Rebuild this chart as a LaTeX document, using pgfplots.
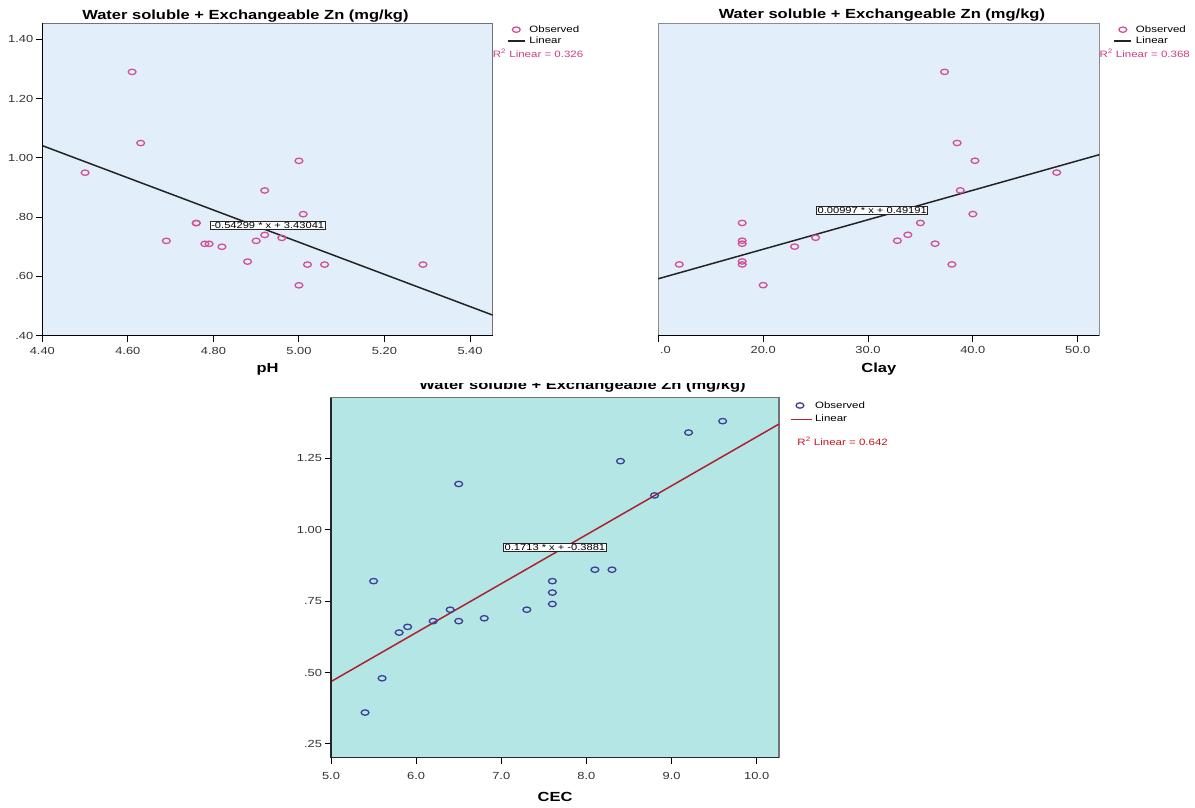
\documentclass[border=0pt]{standalone}
\usepackage{fontspec}
\setmainfont{Liberation Sans}
\newfontfamily\wsans{Liberation Sans}[FakeStretch=1.25]
\usepackage{pgfplots}
\pgfplotsset{compat=1.18}

\definecolor{paneblue}{RGB}{226,238,250}
\definecolor{panecyan}{RGB}{180,230,230}
\definecolor{obspink}{RGB}{208,82,150}
\definecolor{rsqpink}{RGB}{205,60,135}
\definecolor{obsblue}{RGB}{62,62,150}
\definecolor{fitred}{RGB}{170,35,45}
\definecolor{rsqred}{RGB}{195,20,30}
\definecolor{ticktext}{RGB}{50,50,50}
\definecolor{fitdark}{RGB}{35,35,35}

\newcommand\ttl{\wsans\fontsize{13.2}{15}\selectfont\bfseries}
\newcommand\tck{\wsans\fontsize{10.3}{12}\selectfont}
\newcommand\lgd{\wsans\fontsize{9.2}{11}\selectfont}
\newcommand\eqf{\wsans\fontsize{8.9}{10}\selectfont}

\pgfplotsset{
  spss/.style={
    scale only axis, anchor=south west, clip=false,
    axis line style={line width=1.1pt, draw=black!55},
    tick pos=left, tick align=outside,
    major tick length=6.5pt,
    tick style={black, line width=1pt},
    ticklabel style={font=\tck, text=ticktext},
    xticklabel style={yshift=-1.2pt},
    yticklabel style={xshift=1pt},
    xlabel style={font=\ttl, anchor=base, at={(axis description cs:0.5,0)}},
    legend cell align=left,
  },
  obs/.style={only marks, mark=o, mark size=2.7pt,
    mark options={xscale=1.45, line width=1.3pt}},
  lgmark/.style={legend image code/.code={\draw[##1] plot coordinates {(#1,0pt)};}},
  lgline/.style={legend image code/.code={\draw[##1] (0pt,0pt) -- (#1,0pt);}},
}

% Zn data: pH, clay and CEC against water soluble + exchangeable Zn
\pgfplotstableread{
ph zn
4.50 0.95
4.61 1.29
4.63 1.05
4.69 0.72
4.76 0.78
4.76 0.78
4.78 0.71
4.79 0.71
4.82 0.70
4.88 0.65
4.90 0.72
4.92 0.74
4.92 0.89
4.96 0.73
5.00 0.99
5.00 0.57
5.01 0.81
5.02 0.64
5.06 0.64
5.29 0.64
}\phdata
\pgfplotstableread{
clay zn
12.0 0.64
18.0 0.78
18.0 0.72
18.0 0.71
18.0 0.65
18.0 0.64
20.0 0.57
23.0 0.70
25.0 0.73
32.8 0.72
33.8 0.74
35.0 0.78
36.4 0.71
37.3 1.29
38.0 0.64
38.5 1.05
38.8 0.89
40.0 0.81
40.2 0.99
48.0 0.95
}\claydata
\pgfplotstableread{
cec zn
5.4 0.36
5.5 0.82
5.6 0.48
5.8 0.64
5.9 0.66
6.2 0.68
6.4 0.72
6.5 1.16
6.5 0.68
6.8 0.69
7.3 0.72
7.6 0.82
7.6 0.78
7.6 0.74
8.1 0.86
8.3 0.86
8.4 1.24
8.8 1.12
9.2 1.34
9.6 1.38
}\cecdata

\begin{document}
\begin{tikzpicture}
\useasboundingbox (0pt,0pt) rectangle (1195pt,807pt);

% ---------------- pH ----------------
\begin{axis}[spss, at={(42.3pt,471.3pt)}, width=450.4pt, height=312.4pt,
  axis background/.style={fill=paneblue},
  xmin=4.40, xmax=5.453, ymin=0.40, ymax=1.454,
  xtick={4.4,4.6,4.8,5.0,5.2,5.4}, xticklabels={4.40,4.60,4.80,5.00,5.20,5.40},
  ytick={0.4,0.6,0.8,1.0,1.2,1.4}, yticklabels={.40,.60,.80,1.00,1.20,1.40},
  xlabel={pH}, xlabel style={yshift=-37pt},
  legend style={draw=none, fill=none, at={(axis description cs:1.0318,0.994)},
    anchor=north west, font=\lgd, inner sep=0pt, outer sep=0pt,
    row sep=2.6pt, column sep=3.5pt, nodes={inner sep=0.4pt}},
]
\addplot[obs, draw=obspink, lgmark=8.5pt] table[x=ph, y=zn] {\phdata};
\addlegendentry{Observed}
\addplot[fitdark, line width=1.5pt, lgline=17pt]
  coordinates {(4.40,1.041254) (5.453,0.469486)};
\addlegendentry{Linear}
\draw[black, line width=1.2pt] (rel axis cs:0,1) -- (rel axis cs:0,0) -- (rel axis cs:1,0);
\node[draw=black!85, fill=white, inner sep=1pt, font=\eqf, line width=0.8pt]
  at (axis cs:4.927,0.773) {-0.54299 * x + 3.43041};
\node[font=\ttl, anchor=base, yshift=4pt] at (axis description cs:0.451,1)
  {Water soluble + Exchangeable Zn (mg/kg)};
\node[font=\lgd, text=rsqpink, anchor=base west, inner sep=0pt]
  at (axis description cs:1.0,0.8905) {R\textsuperscript{2} Linear = 0.326};
\end{axis}

% ---------------- Clay ----------------
\begin{axis}[spss, at={(658.3pt,471.5pt)}, width=441pt, height=312.2pt,
  axis background/.style={fill=paneblue},
  axis line style={line width=1.1pt, draw=black!45},
  xmin=10, xmax=52.06, ymin=0.40, ymax=1.454,
  xtick={10,20,30,40,50}, xticklabels={\phantom{10}.0,20.0,30.0,40.0,50.0},
  ytick=\empty,
  xlabel={Clay}, xlabel style={yshift=-37pt},
  legend style={draw=none, fill=none, at={(axis description cs:1.0324,0.994)},
    anchor=north west, font=\lgd, inner sep=0pt, outer sep=0pt,
    row sep=2.6pt, column sep=3.5pt, nodes={inner sep=0.4pt}},
]
\addplot[obs, draw=obspink, lgmark=8.5pt] table[x=clay, y=zn] {\claydata};
\addlegendentry{Observed}
\addplot[fitdark, line width=1.5pt, lgline=17pt]
  coordinates {(10,0.59161) (52.06,1.010428)};
\addlegendentry{Linear}
\draw[black, line width=1.2pt] (rel axis cs:0,0) -- (rel axis cs:1,0);
\node[draw=black!85, fill=white, inner sep=1pt, font=\eqf, line width=0.8pt]
  at (axis cs:30.4,0.822) {0.00997 * x + 0.49191};
\node[font=\ttl, anchor=base, yshift=4.3pt] at (axis description cs:0.507,1)
  {Water soluble + Exchangeable Zn (mg/kg)};
\node[font=\lgd, text=rsqpink, anchor=base west, inner sep=0pt]
  at (axis description cs:1.0,0.8905) {R\textsuperscript{2} Linear = 0.368};
\end{axis}

% ---------------- CEC ----------------
\begin{axis}[spss, at={(331pt,49.3pt)}, width=448pt, height=360pt,
  axis background/.style={fill=panecyan},
  xmin=5, xmax=10.262, ymin=0.202, ymax=1.462,
  xtick={5,6,7,8,9,10}, xticklabels={5.0,6.0,7.0,8.0,9.0,10.0},
  ytick={0.25,0.5,0.75,1.0,1.25}, yticklabels={.25,.50,.75,1.00,1.25},
  xticklabel style={yshift=-3pt},
  xlabel={CEC}, xlabel style={yshift=-44pt},
  legend style={draw=none, fill=none, at={(axis description cs:1.0261,0.9908)},
    anchor=north west, font=\lgd, inner sep=0pt, outer sep=0pt,
    row sep=4.8pt, column sep=1.5pt, nodes={inner sep=0.4pt}},
]
\addplot[obs, draw=obsblue, lgmark=8.5pt] table[x=cec, y=zn] {\cecdata};
\addlegendentry{Observed}
\addplot[fitred, line width=1.5pt, lgline=21pt]
  coordinates {(5,0.4684) (10.262,1.369781)};
\addlegendentry{Linear}
\draw[black!85, line width=1.2pt] (rel axis cs:0,1) -- (rel axis cs:0,0) -- (rel axis cs:1,0);
\node[draw=black!85, fill=white, inner sep=1pt, font=\eqf, line width=0.8pt]
  at (axis cs:7.63,0.939) {0.1713 * x + -0.3881};
\node[font=\ttl, anchor=base, yshift=7.7pt] at (axis description cs:0.5614,1)
  {Water soluble + Exchangeable Zn (mg/kg)};
\node[font=\lgd, text=rsqred, anchor=base west, inner sep=0pt]
  at (axis description cs:1.0408,0.8686) {R\textsuperscript{2} Linear = 0.642};
\end{axis}

% upper part of the lower title is hidden behind the panels above
\fill[white] (412pt,423.7pt) rectangle (760pt,437pt);
\end{tikzpicture}
\end{document}
